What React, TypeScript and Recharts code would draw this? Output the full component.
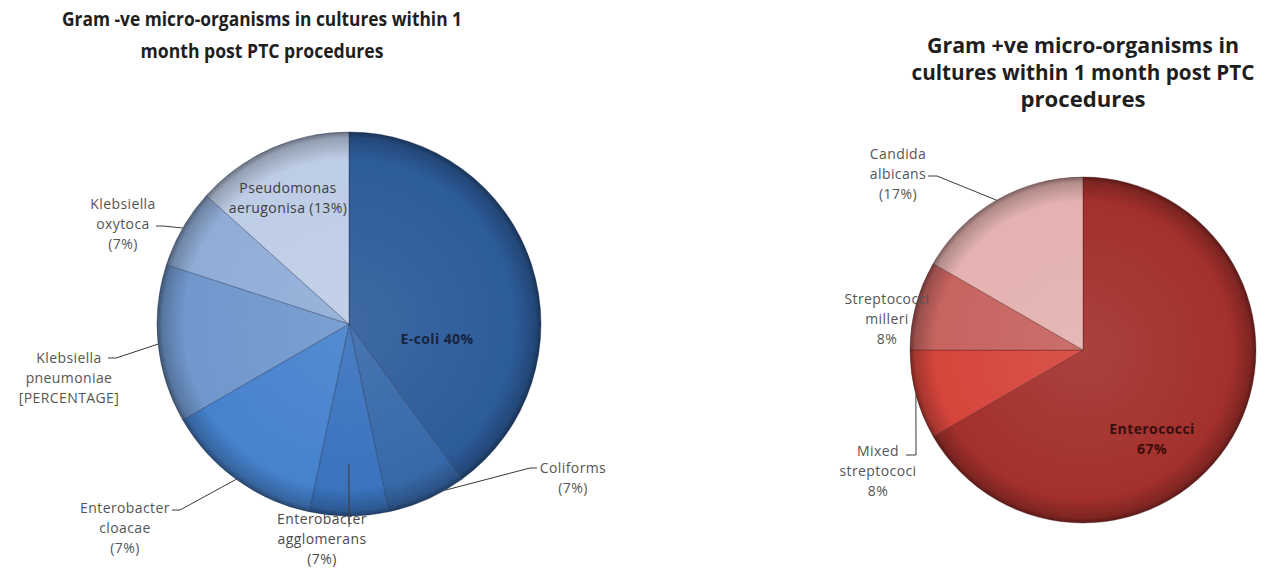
import { PieChart, Pie, Cell } from "recharts";

// ---- Gram -ve ----
const negNames = [
  "E-coli",
  "Coliforms",
  "Enterobacter agglomerans",
  "Enterobacter cloacae",
  "Klebsiella pneumoniae",
  "Klebsiella oxytoca",
  "Pseudomonas aerugonisa",
];
const negCounts = [6, 1, 1, 2, 2, 1, 2];
const negLabels = [
  ["E-coli 40%"],
  ["Coliforms", "(7%)"],
  ["Enterobacter", "agglomerans", "(7%)"],
  ["Enterobacter", "cloacae", "(7%)"],
  ["Klebsiella", "pneumoniae", "[PERCENTAGE]"],
  ["Klebsiella", "oxytoca", "(7%)"],
  ["Pseudomonas", "aerugonisa (13%)"],
];
const negColors = ["#2d5c9b", "#3769aa", "#3a73be", "#4682cd", "#7098cd", "#91add7", "#becde6"];

// ---- Gram +ve ----
const posNames = ["Enterococci", "Mixed streptococci", "Streptococci milleri", "Candida albicans"];
const posCounts = [8, 1, 1, 2];
const posLabels = [
  ["Enterococci", "67%"],
  ["Mixed", "streptococi", "8%"],
  ["Streptococci", "milleri", "8%"],
  ["Candida", "albicans", "(17%)"],
];
const posColors = ["#a3302c", "#d6453c", "#c66460", "#e4b2b0"];

const negTitle = ["Gram -ve micro-organisms in cultures within 1", "month post PTC procedures"];
const posTitle = ["Gram +ve micro-organisms in", "cultures within 1 month post PTC", "procedures"];

const negData = negNames.map((name, i) => ({ name, value: negCounts[i] }));
const posData = posNames.map((name, i) => ({ name, value: posCounts[i] }));

// label placement (offsets from the pie centre)
type Place = {
  x: number;
  y: number;
  lead?: number[][];
  from?: number;
  shift?: number;
  bold?: boolean;
  color?: string;
};

const NEG = { cx: 349, cy: 324, r: 192 };
const POS = { cx: 1083, cy: 350, r: 173 };

const negPlaces: Place[] = [
  { x: 88, y: 14, bold: true, color: "#16243f" },
  { x: 224, y: 153, lead: [[181, 144], [188, 144]], shift: 6 },
  { x: -27, y: 214, from: 0.73, lead: [[0, 203]], color: "#4a4a4a" },
  { x: -224, y: 203, lead: [[-169, 186], [-177, 186]] },
  { x: -280, y: 53, lead: [[-233, 34], [-241, 34]] },
  { x: -226, y: -101, lead: [[-186, -98], [-193, -98]] },
  { x: -61, y: -127, color: "#3d3d3d" },
];

const posPlaces: Place[] = [
  { x: 69, y: 88, bold: true, color: "#3b0d0b" },
  { x: -205, y: 120, lead: [[-167, 105], [-177, 105]] },
  { x: -196, y: -32 },
  { x: -185, y: -177, lead: [[-146, -174], [-155, -174]] },
];

const FONT = "'Open Sans', 'DejaVu Sans', sans-serif";
const RAD = Math.PI / 180;

function shade(hex: string, f: number) {
  const n = parseInt(hex.slice(1), 16);
  const c = [(n >> 16) & 255, (n >> 8) & 255, n & 255].map((v) =>
    Math.round(f < 0 ? v * (1 + f) : v + (255 - v) * f)
  );
  return `rgb(${c.join(",")})`;
}

function makeLabel(lines: string[][], places: Place[], lh: number) {
  return (p: any) => {
    const { cx, cy, midAngle, outerRadius, index } = p;
    const pl = places[index];
    const a = -(midAngle + (pl.shift ?? 0)) * RAD;
    const r0 = outerRadius * (pl.from ?? 1);
    const sx = cx + Math.cos(a) * r0;
    const sy = cy + Math.sin(a) * r0;
    const txt = lines[index];
    const top = cy + pl.y - ((txt.length - 1) * lh) / 2;
    const pts = [[sx, sy], ...(pl.lead ?? []).map(([dx, dy]) => [cx + dx, cy + dy])];
    return (
      <g key={`lbl-${index}`}>
        {pl.lead && (
          <polyline
            points={pts.map((q) => q.join(",")).join(" ")}
            fill="none"
            stroke="#3a3a3a"
            strokeWidth={1}
          />
        )}
        <text
          textAnchor="middle"
          fontFamily={FONT}
          fontSize={14}
          letterSpacing={0.4}
          fontWeight={pl.bold ? 700 : 400}
          fill={pl.color ?? "#555555"}
        >
          {txt.map((t, i) => (
            <tspan key={i} x={cx + pl.x} y={top + i * lh} dominantBaseline="central">
              {t}
            </tspan>
          ))}
        </text>
      </g>
    );
  };
}

function Grad({ id, color, c }: { id: string; color: string; c: { cx: number; cy: number; r: number } }) {
  return (
    <radialGradient id={id} cx={c.cx} cy={c.cy} r={c.r} gradientUnits="userSpaceOnUse">
      <stop offset="0" stopColor={shade(color, 0.08)} />
      <stop offset="0.86" stopColor={color} />
      <stop offset="0.97" stopColor={shade(color, -0.22)} />
      <stop offset="1" stopColor={shade(color, -0.45)} />
    </radialGradient>
  );
}

function Title({ lines, x, y, lh, widths, size }: { lines: string[]; x: number; y: number; lh: number; widths: number[]; size: number }) {
  return (
    <g>
      {lines.map((t, i) => (
        <text
          key={i}
          x={x}
          y={y + i * lh}
          textAnchor="middle"
          dominantBaseline="central"
          fontFamily={FONT}
          fontWeight={700}
          fontSize={size}
          fill="#1e1e1e"
          textLength={widths[i]}
          lengthAdjust="spacingAndGlyphs"
        >
          {t}
        </text>
      ))}
    </g>
  );
}

export default function App() {
  return (
    <div style={{ position: "absolute", left: 0, top: 0, width: 1265, height: 569, background: "#fff" }}>
      <PieChart width={1265} height={569} margin={{ top: 0, right: 0, bottom: 0, left: 0 }}>
        <defs>
          {negColors.map((c, i) => (
            <Grad key={`n${i}`} id={`gn${i}`} color={c} c={NEG} />
          ))}
          {posColors.map((c, i) => (
            <Grad key={`p${i}`} id={`gp${i}`} color={c} c={POS} />
          ))}
        </defs>
        <Title lines={negTitle} x={262} y={18} lh={32} widths={[400, 243]} size={20} />
        <Title lines={posTitle} x={1083} y={45} lh={27} widths={[312, 343, 125]} size={21} />
        <Pie
          data={negData}
          dataKey="value"
          nameKey="name"
          cx={NEG.cx}
          cy={NEG.cy}
          outerRadius={NEG.r}
          startAngle={90}
          endAngle={-270}
          stroke="rgba(20,35,70,0.35)"
          strokeWidth={1}
          label={makeLabel(negLabels, negPlaces, 20)}
          labelLine={false}
          isAnimationActive={false}
        >
          {negData.map((_, i) => (
            <Cell key={i} fill={`url(#gn${i})`} />
          ))}
        </Pie>
        <Pie
          data={posData}
          dataKey="value"
          nameKey="name"
          cx={POS.cx}
          cy={POS.cy}
          outerRadius={POS.r}
          startAngle={90}
          endAngle={-270}
          stroke="rgba(70,20,20,0.35)"
          strokeWidth={1}
          label={makeLabel(posLabels, posPlaces, 20)}
          labelLine={false}
          isAnimationActive={false}
        >
          {posData.map((_, i) => (
            <Cell key={i} fill={`url(#gp${i})`} />
          ))}
        </Pie>
      </PieChart>
    </div>
  );
}
